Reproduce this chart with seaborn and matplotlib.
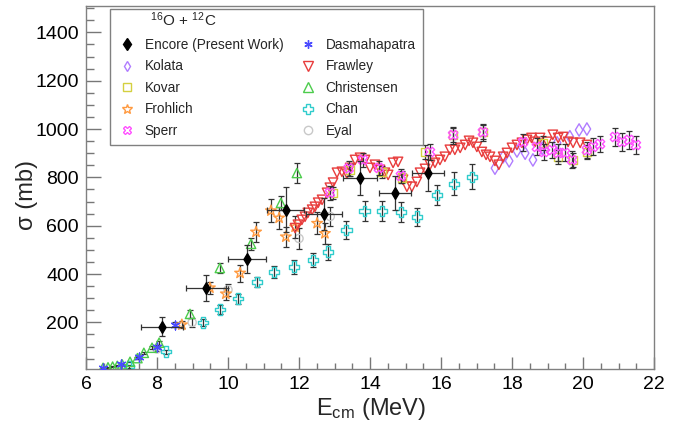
import numpy as np
import pandas as pd
import matplotlib
matplotlib.use("Agg")
import matplotlib.pyplot as plt
from matplotlib.lines import Line2D
from matplotlib.ticker import MultipleLocator
import seaborn as sns

# ---------------- data (E_cm in MeV, sigma in mb) ----------------
encore_x = [8.14, 9.38, 10.53, 11.63, 12.70, 13.72, 14.70, 15.63]
encore_y = [182, 343, 463, 665, 649, 797, 736, 818]
encore_xerr = [0.60, 0.57, 0.53, 0.52, 0.50, 0.48, 0.46, 0.46]
encore_yerr = [40, 55, 58, 93, 65, 70, 70, 75]

kolata_x = [17.52, 17.75, 17.92, 18.14, 18.37, 18.59, 18.85, 19.27, 19.63, 19.89, 20.11]
kolata_y = [838, 885, 868, 909, 900, 872, 920, 943, 968, 996, 1000]

kovar_x = [12.96, 13.44, 14.34, 14.90, 15.55, 16.34, 17.18, 18.87, 19.30, 19.72, 20.11]
kovar_y = [736, 831, 822, 800, 905, 975, 987, 942, 885, 872, 905]
kovar_yerr = [25, 25, 25, 25, 30, 30, 30, 30, 30, 30, 30]

frohlich_x = [8.70, 9.49, 9.94, 10.34, 10.79, 11.21, 11.44, 11.63, 11.89, 12.51, 12.73]
frohlich_y = [190, 343, 318, 404, 574, 662, 632, 554, 595, 610, 568]
frohlich_yerr = [15, 25, 25, 35, 40, 48, 45, 42, 45, 45, 45]

sperr_x = [12.87, 13.40, 13.80, 14.25, 14.87, 15.69, 16.34, 17.18, 18.31, 18.70, 18.90,
           19.13, 19.30, 19.49, 19.69, 20.11, 20.28, 20.48, 20.90, 21.10, 21.30, 21.49]
sperr_y = [736, 837, 872, 839, 806, 905, 975, 987, 946, 926, 905,
           913, 901, 901, 872, 913, 926, 938, 967, 947, 955, 934]
sperr_yerr = [30, 30, 30, 30, 30, 35, 35, 35, 35, 35, 35,
              35, 35, 35, 35, 35, 35, 35, 38, 38, 38, 38]

dasma_x = [6.48, 6.99, 7.49, 7.99, 8.51]
dasma_y = [12, 28, 55, 100, 190]
dasma_yerr = [4, 5, 6, 8, 10]

frawley_x = [11.89, 11.97, 12.08, 12.17, 12.25, 12.37, 12.45, 12.54, 12.65, 12.79, 12.87,
             12.96, 13.07, 13.21, 13.35, 13.44, 13.58, 13.72, 13.86, 14.00, 14.14, 14.28,
             14.42, 14.51, 14.65, 14.79, 14.93, 15.04, 15.18, 15.32, 15.41, 15.55, 15.69,
             15.83, 15.97, 16.11, 16.25, 16.39, 16.54, 16.68, 16.79, 16.90, 17.01, 17.15,
             17.27, 17.38, 17.52, 17.63, 17.75, 17.86, 18.00, 18.14, 18.28, 18.42, 18.55,
             18.65, 18.79, 18.99, 19.15, 19.30, 19.44, 19.58, 19.72, 19.92, 20.11]
frawley_y = [590, 604, 624, 637, 653, 666, 678, 695, 707, 736, 757,
             778, 819, 823, 815, 839, 872, 881, 872, 839, 852, 831,
             819, 810, 860, 864, 790, 761, 761, 781, 819, 835, 852,
             860, 872, 885, 914, 914, 922, 934, 951, 943, 926, 905,
             893, 885, 868, 852, 885, 901, 922, 934, 943, 955, 963,
             947, 963, 947, 976, 963, 967, 947, 943, 943, 934]

christ_x = [6.48, 6.62, 6.75, 6.88, 7.02, 7.24, 7.45, 7.63, 7.86, 8.06, 8.93, 9.77, 10.65, 11.49, 11.94]
christ_y = [12, 14, 17, 20, 26, 37, 52, 74, 95, 116, 235, 425, 525, 694, 818]
christ_yerr = [2, 2, 2, 2, 3, 3, 4, 5, 6, 8, 15, 20, 25, 30, 40]

chan_x = [7.21, 8.25, 9.30, 9.77, 10.28, 10.82, 11.30, 11.86, 12.40, 12.82, 13.33,
          13.85, 14.34, 14.87, 15.32, 15.89, 16.37, 16.87]
chan_y = [17, 79, 199, 254, 298, 367, 408, 430, 458, 492, 582,
          661, 661, 657, 637, 727, 773, 802]
chan_yerr = [5, 8, 15, 18, 20, 22, 25, 28, 30, 32, 36, 40, 40, 40, 38, 42, 48, 52]

eyal_x = [8.00, 8.99, 10.00, 12.00, 12.88]
eyal_y = [90, 200, 335, 547, 638]
eyal_yerr = [10, 20, 25, 45, 40]

legend_labels = ["Encore (Present Work)", "Kolata", "Kovar", "Frohlich", "Sperr",
                 "Dasmahapatra", "Frawley", "Christensen", "Chan", "Eyal"]
header = "$^{16}$O + $^{12}$C"

# ---------------- style ----------------
sns.set_theme(style="ticks")
plt.rcParams['font.family'] = ['Liberation Sans', 'DejaVu Sans']
plt.rcParams['mathtext.fontset'] = 'custom'
plt.rcParams['mathtext.rm'] = 'Liberation Sans'
plt.rcParams['mathtext.it'] = 'Liberation Sans:italic'

fig = plt.figure(figsize=(6.91, 4.28), dpi=100)
ax = fig.add_axes([86 / 691, 1 - 369 / 428, (654 - 86) / 691, (369 - 6) / 428])

C_ENC = "black"
C_KOL = "#b07cff"
C_KOV = "#d4d040"
C_FRO = "#ff9a40"
C_SPE = "#ff50ff"
C_DAS = "#4a4aff"
C_FRA = "#e83c3c"
C_CHR = "#4ccc4c"
C_CHA = "#30cccc"
C_EYA = "#c8c8c8"
ECOL = "#333333"

ASTER = (6, 2, 0)


def errs(x, y, yerr, xerr=None, z=2):
    ax.errorbar(x, y, yerr=yerr, xerr=xerr, fmt='none', ecolor=ECOL,
                elinewidth=0.9, capsize=2, capthick=0.9, zorder=z)


def pts(x, y, marker, color, s, filled=False, lw=1.0, z=3):
    if marker == ASTER:
        sns.scatterplot(x=x, y=y, marker=marker, s=s, color=color,
                        linewidth=1.0, ax=ax, zorder=z, legend=False)
    elif filled:
        sns.scatterplot(x=x, y=y, marker=marker, s=s, color=color,
                        edgecolor=color, linewidth=lw, ax=ax, zorder=z, legend=False)
    else:
        sns.scatterplot(x=x, y=y, marker=marker, s=s, facecolor='none',
                        edgecolor=color, linewidth=lw, ax=ax, zorder=z, legend=False)


errs(eyal_x, eyal_y, eyal_yerr, z=2)
pts(eyal_x, eyal_y, 'o', C_EYA, 35, z=2.5)
errs(chan_x, chan_y, chan_yerr, z=3)
pts(chan_x, chan_y, 'P', C_CHA, 58, lw=1.0, z=3.5)
errs(christ_x, christ_y, christ_yerr, z=3)
pts(christ_x, christ_y, '^', C_CHR, 45, z=3.5)
errs(dasma_x, dasma_y, dasma_yerr, z=3)
pts(dasma_x, dasma_y, ASTER, C_DAS, 40, z=3.6)
errs(frohlich_x, frohlich_y, frohlich_yerr, z=3)
pts(frohlich_x, frohlich_y, '*', C_FRO, 65, z=3.5)
pts(kolata_x, kolata_y, 'd', C_KOL, 40, z=3.5)
pts(frawley_x, frawley_y, 'v', C_FRA, 46, lw=1.0, z=4)
errs(kovar_x, kovar_y, kovar_yerr, z=4.2)
pts(kovar_x, kovar_y, 's', C_KOV, 38, z=4.3)
errs(sperr_x, sperr_y, sperr_yerr, z=4.4)
pts(sperr_x, sperr_y, 'X', C_SPE, 45, z=4.5)
errs(encore_x, encore_y, encore_yerr, encore_xerr, z=5)
pts(encore_x, encore_y, 'd', C_ENC, 36, filled=True, z=5.5)

# ---------------- axes ----------------
ax.set_xlim(6, 22)
ax.set_ylim(7, 1509)
ax.xaxis.set_major_locator(MultipleLocator(2))
ax.xaxis.set_minor_locator(MultipleLocator(0.5))
ax.yaxis.set_major_locator(MultipleLocator(200))
ax.yaxis.set_minor_locator(MultipleLocator(50))
ax.set_yticks([200, 400, 600, 800, 1000, 1200, 1400])

ax.tick_params(axis='both', which='both', direction='in', color='#777777',
               labelcolor='black', width=1.0, labelsize=14, pad=5)
ax.tick_params(axis='x', which='major', length=9)
ax.tick_params(axis='x', which='minor', length=4.5)
ax.tick_params(axis='y', which='major', length=11)
ax.tick_params(axis='y', which='minor', length=5.5)

for sp in ax.spines.values():
    sp.set_color('#808080')
    sp.set_linewidth(1.0)

ax.set_xlabel("E$_{\\mathrm{cm}}$ (MeV)", fontsize=17)
ax.set_ylabel("σ (mb)", fontsize=17)
ax.xaxis.set_label_coords(0.502, -0.075)
ax.yaxis.set_label_coords(-0.104, 0.479)
ax.yaxis.label.set_va('center')
ax.xaxis.label.set_va('top')

# ---------------- legend ----------------
def h(marker, color, filled=False, ms=6.5, mew=1.0):
    if marker == ASTER:
        return Line2D([], [], linestyle='none', marker=marker, color=color,
                      markersize=ms, markeredgewidth=1.0)
    return Line2D([], [], linestyle='none', marker=marker,
                  markerfacecolor=color if filled else 'none',
                  markeredgecolor=color, markersize=ms, markeredgewidth=mew)

handles = [h('d', C_ENC, True, 6), h('d', C_KOL, False, 5.5), h('s', C_KOV, False, 6),
           h('*', C_FRO, False, 7), h('X', C_SPE, False, 6),
           h(ASTER, C_DAS, ms=6), h('v', C_FRA, False, 6.5), h('^', C_CHR, False, 6.5),
           h('P', C_CHA, False, 7), h('o', C_EYA, False, 6)]

leg = ax.legend(handles, legend_labels, ncol=2, loc='upper left',
                bbox_to_anchor=(24 / 568, 360 / 363), borderaxespad=0,
                fontsize=9.8, title=" ", title_fontsize=11,
                frameon=True, fancybox=False, framealpha=1,
                handlelength=1.4, handletextpad=0.6, columnspacing=1.1,
                labelspacing=0.55, borderpad=0.55)
leg.get_frame().set_edgecolor('#808080')
leg.get_frame().set_linewidth(1.0)
leg.set_zorder(10)

fig.text(150 / 691, 1 - 20 / 428, header, ha='left', va='center', fontsize=11, zorder=11)

fig.savefig("out.png", dpi=100)
